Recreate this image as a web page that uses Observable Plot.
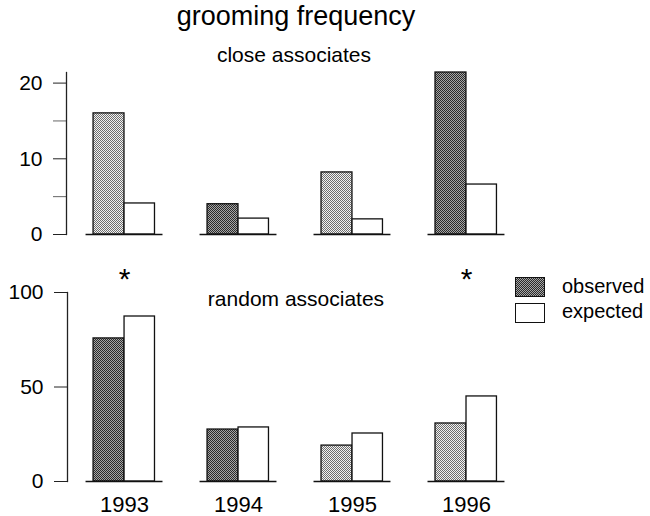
<!DOCTYPE html>
<html><head><meta charset="utf-8">
<script src="https://cdn.jsdelivr.net/npm/d3@7"></script>
<script src="https://cdn.jsdelivr.net/npm/@observablehq/plot@0.6"></script>
<style>
body{margin:0;background:#fff;}
#chart{position:relative;width:650px;height:516px;font-family:"Liberation Sans",Arial,sans-serif;color:#000;background:#fff;overflow:hidden;}
.t{position:absolute;white-space:nowrap;line-height:1;}
.panel{position:absolute;left:0;}
.sw{position:absolute;box-sizing:border-box;border:1.3px solid #111;}
</style></head><body>
<div id="chart">
 <svg width="0" height="0" style="position:absolute"><defs>
  <pattern id="lightDots" width="2" height="2" patternUnits="userSpaceOnUse"><rect width="2" height="2" fill="#f2f2f2"/><rect width="1" height="1" fill="#6e6e6e"/><rect x="1" y="1" width="1" height="1" fill="#6e6e6e"/></pattern>
  <pattern id="darkDots" width="2" height="2" patternUnits="userSpaceOnUse"><rect width="2" height="2" fill="#a6a6a6"/><rect width="1" height="1" fill="#2a2a2a"/><rect x="1" y="1" width="1" height="1" fill="#2a2a2a"/></pattern>
 </defs></svg>
 <div id="top" class="panel" style="top:0"></div>
 <div id="bottom" class="panel" style="top:250px"></div>
 <div class="t" style="left:0;width:592px;text-align:center;top:3px;font-size:27px">grooming frequency</div>
 <div class="t" style="left:0;width:588px;text-align:center;top:44px;font-size:21px">close associates</div>
 <div class="t" style="left:0;width:592px;text-align:center;top:288px;font-size:21px">random associates</div>
 <div class="sw" style="left:515px;top:277px;width:30px;height:20px;background:repeating-conic-gradient(#2a2a2a 0 25%, #a6a6a6 0 50%) 0 0/2px 2px"></div>
 <div class="sw" style="left:515px;top:303px;width:30px;height:20px;background:#fff"></div>
 <div class="t" style="left:562px;top:276px;font-size:20px">observed</div>
 <div class="t" style="left:562px;top:301px;font-size:20px">expected</div>
</div>
<script>
const years = ["1993", "1994", "1995", "1996"];
const closeObserved = [16.0, 4.0, 8.2, 21.4];
const closeExpected = [4.1, 2.1, 2.0, 6.6];
const closeShade = ["light", "dark", "light", "dark"];
const randomObserved = [75.7, 27.5, 19.0, 30.7];
const randomExpected = [87.3, 28.6, 25.4, 45.0];
const randomShade = ["dark", "dark", "light", "light"];
const randomSignificant = [true, false, false, true];
const closeTicks = [0, 10, 20];
const closeMinorTicks = [5, 15];
const randomTicks = [0, 50, 100];

const closeRows = years.map((year, i) => ({year, observed: closeObserved[i], expected: closeExpected[i], shade: closeShade[i]}));
const randomRows = years.map((year, i) => ({year, observed: randomObserved[i], expected: randomExpected[i], shade: randomShade[i], sig: randomSignificant[i]}));

const font = {fontFamily: "'Liberation Sans', Arial, sans-serif", background: "transparent", overflow: "visible"};
const xScale = {type: "band", domain: years, range: [48.5, 541.5], padding: 0.325, round: false};

function barMarks(rows) {
  return [
    Plot.barY(rows.filter(d => d.shade === "light"), {x: "year", y: "observed", fill: "url(#lightDots)", stroke: "#111", strokeWidth: 1.3, insetLeft: 7.5, insetRight: 38.5}),
    Plot.barY(rows.filter(d => d.shade === "dark"), {x: "year", y: "observed", fill: "url(#darkDots)", stroke: "#111", strokeWidth: 1.3, insetLeft: 7.5, insetRight: 38.5}),
    Plot.barY(rows, {x: "year", y: "expected", fill: "white", stroke: "#111", strokeWidth: 1.3, insetLeft: 38.5, insetRight: 8}),
    Plot.tickY(rows, {x: "year", y: 0, stroke: "#111", strokeWidth: 1.5})
  ];
}

const topPlot = Plot.plot({
  width: 650, height: 250,
  marginTop: 72, marginBottom: 16, marginLeft: 66, marginRight: 108.5,
  style: font,
  x: {...xScale, axis: null},
  y: {domain: [0, 21.4], axis: null},
  marks: [
    Plot.axisY({ticks: closeTicks, tickSize: 13, tickPadding: 11, fontSize: 21, label: null, stroke: "#222"}),
    Plot.axisY({ticks: closeMinorTicks, tickSize: 13, tickFormat: () => "", label: null, stroke: "#666"}),
    Plot.frame({anchor: "left", stroke: "#222", strokeWidth: 1.3}),
    ...barMarks(closeRows)
  ]
});
document.getElementById("top").appendChild(topPlot);

const bottomPlot = Plot.plot({
  width: 650, height: 266,
  marginTop: 42, marginBottom: 35, marginLeft: 67, marginRight: 108.5,
  style: font,
  x: {...xScale, axis: null},
  y: {domain: [0, 100], axis: null},
  marks: [
    Plot.axisY({ticks: randomTicks, tickSize: 13, tickPadding: 11, fontSize: 21, label: null, stroke: "#222"}),
    Plot.axisX({tickSize: 0, tickPadding: 15, fontSize: 22, label: null}),
    Plot.frame({anchor: "left", stroke: "#222", strokeWidth: 1.3}),
    ...barMarks(randomRows),
    Plot.text(randomRows.filter(d => d.sig), {x: "year", text: () => "*", frameAnchor: "top", lineAnchor: "middle", dy: -13, fontSize: 30})
  ]
});
document.getElementById("bottom").appendChild(bottomPlot);
</script>
</body></html>
